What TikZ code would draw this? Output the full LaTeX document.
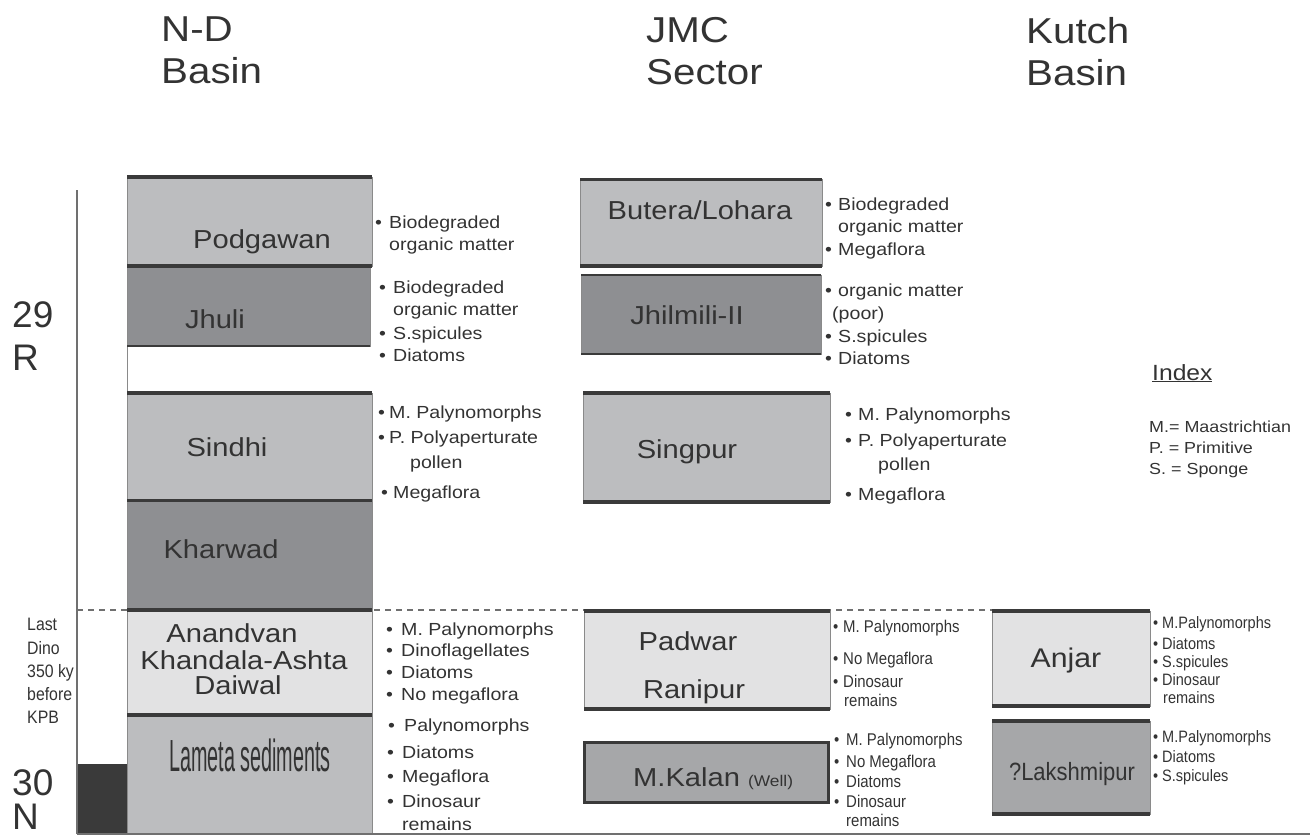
\documentclass[tikz,border=0pt]{standalone}
\usepackage{fontspec}
\setmainfont{Liberation Sans}[FakeStretch=1.12]
\newfontfamily\plainf{Liberation Sans}
\newfontfamily\narrowf{Liberation Sans}[FakeStretch=0.88]
\newfontfamily\lamf{Liberation Sans}[FakeStretch=0.44]
\definecolor{tc}{HTML}{333333}
\definecolor{lightg}{HTML}{BCBDBF}
\definecolor{darkg}{HTML}{8E8F92}
\definecolor{palest}{HTML}{E2E2E3}
\definecolor{midg}{HTML}{A6A7A9}
\definecolor{rulec}{HTML}{3A3A3A}
\definecolor{sideg}{HTML}{8A8A8A}
\definecolor{axisg}{HTML}{707070}
\newcounter{lnc}
\newcommand\stratbox[6]{\node[box,fill=#6,minimum width=#4pt,minimum height=#5pt] (#1) at (#2,#3) {};}
\newcommand\li[4][lst]{\stepcounter{lnc}\node[#1] (li\arabic{lnc}) at (#2,#3) {#4};}
\newcommand\bb[1]{\makebox[#1pt][l]{\textbullet}}
\begin{document}
\begin{tikzpicture}[x=1pt,y=-1pt,
  box/.style={draw=sideg,line width=1pt,inner sep=0pt,outer sep=0pt,anchor=north west},
  rule/.style={draw=rulec,line width=#1},
  rule/.default=3.5pt,
  lst/.style={anchor=base west,inner sep=0pt,text=tc,font=\fontsize{17.5}{18}\selectfont},
  nl/.style={lst,font=\narrowf\fontsize{17}{18}\selectfont},
  kl/.style={lst,font=\narrowf\fontsize{16.5}{18}\selectfont},
  ld/.style={lst,font=\narrowf\fontsize{18}{18}\selectfont},
  big/.style={lst,font=\plainf\fontsize{37}{40}\selectfont},
  idx/.style={lst,font=\fontsize{16}{18}\selectfont},
  lab/.style={anchor=base,inner sep=0pt,text=tc,font=\fontsize{26}{28}\selectfont},
  ttl/.style={anchor=north west,inner sep=0pt,text=tc,align=left,font=\fontsize{36}{42}\selectfont},
  dashline/.style={draw=axisg,line width=1.2pt,dash pattern=on 6pt off 5pt},
  axis/.style={draw=axisg,line width=1.5pt}]
\useasboundingbox (0,0) rectangle (1310,836);

% titles
\node[ttl] (t1) at (161,17) {N-D\\Basin};
\node[ttl] (t2) at (646,17) {JMC\\Sector};
\node[ttl] (t3) at (1026,17) {Kutch\\Basin};

% axis, dashed KPB-level line, bottom line
\coordinate (axT) at (77,190);
\coordinate (axB) at (77,834);
\coordinate (botR) at (1310,834);
\coordinate (dashL) at (77,610);
\coordinate (dashR) at (992,610);
\draw[dashline] (dashL) -- (dashR);

% N-D Basin column
\stratbox{pod}{127}{177}{245}{89}{lightg}
\stratbox{jhu}{127}{266}{243}{80}{darkg}
\stratbox{sin}{127}{393}{245}{107}{lightg}
\stratbox{kha}{127}{500}{245}{110}{darkg}
\stratbox{ana}{127}{610}{245}{105}{palest}
\stratbox{lam}{127}{715}{245}{119}{lightg}
\draw[draw=sideg,line width=1pt] (jhu.south west) -- (sin.north west);
\draw[rule] (pod.north west) -- (pod.north east);
\draw[rule] (pod.south west) -- (pod.south east);
\draw[rule=2.5pt] (jhu.south west) -- (jhu.south east);
\draw[rule] (sin.north west) -- (sin.north east);
\draw[rule=3pt] (sin.south west) -- (sin.south east);
\draw[rule=4pt] (kha.south west) -- (kha.south east);
\draw[rule=4pt] (ana.south west) -- (ana.south east);

% JMC Sector column
\stratbox{but}{580}{179}{242}{87}{lightg}
\stratbox{jhi}{581}{275}{240}{79}{darkg}
\stratbox{sgp}{583}{393}{247}{109}{lightg}
\stratbox{pad}{584}{611}{246}{98}{palest}
\node[box,fill=midg,draw=rulec,line width=3pt,minimum width=244pt,minimum height=60pt] (mka) at (584,742) {};
\draw[rule=3pt] (but.north west) -- (but.north east);
\draw[rule] (but.south west) -- (but.south east);
\draw[rule=2.5pt] (jhi.north west) -- (jhi.north east);
\draw[rule=2.5pt] (jhi.south west) -- (jhi.south east);
\draw[rule] (sgp.north west) -- (sgp.north east);
\draw[rule] (sgp.south west) -- (sgp.south east);
\draw[rule=4pt] (pad.north west) -- (pad.north east);
\draw[rule=4pt] (pad.south west) -- (pad.south east);

% Kutch Basin column
\stratbox{anj}{992}{611}{158}{95}{palest}
\stratbox{lak}{992}{721}{158}{93}{midg}
\draw[rule=4pt] (anj.north west) -- (anj.north east);
\draw[rule] (anj.south west) -- (anj.south east);
\draw[rule=4pt] (lak.north west) -- (lak.north east);
\draw[rule] (lak.south west) -- (lak.south east);

% axis and chron bar
\node[box,draw=none,fill=rulec,minimum width=50pt,minimum height=70pt] (bar) at (77,764) {};
\draw[axis] (axT) -- (axB);
\draw[axis,line width=2pt] (axB) -- (botR);

% box labels
\node[lab] (lpod) at (262,248) {Podgawan};
\node[lab] (ljhu) at (215,328) {Jhuli};
\node[lab] (lsin) at (227,456) {Sindhi};
\node[lab] (lkha) at (221,558) {Kharwad};
\node[lab] (lana1) at (232,642) {Anandvan};
\node[lab] (lana2) at (244,669) {Khandala-Ashta};
\node[lab] (lana3) at (238,694) {Daiwal};
\node[lab,font=\lamf\fontsize{45}{45}\selectfont] (llam) at (250,771) {Lameta sediments};
\node[lab] (lbut) at (700,219) {Butera/Lohara};
\node[lab] (ljhi) at (687,324) {Jhilmili-II};
\node[lab] (lsgp) at (687,458) {Singpur};
\node[lab] (lpad1) at (688,650) {Padwar};
\node[lab] (lpad2) at (694,698) {Ranipur};
\node[lab,anchor=base west] (lmka) at (633,786) {M.Kalan {\fontsize{15.5}{15}\selectfont(Well)}};
\node[lab,font=\fontsize{27}{28}\selectfont] (lanj) at (1066,667) {Anjar};
\node[lab,font=\narrowf\fontsize{25}{26}\selectfont] (llak) at (1072,780) {?Lakshmipur};

% chron labels
\li[big]{12}{327}{29}
\li[big]{12}{370}{R}
\li[big]{12}{795}{30}
\li[big]{12}{829}{N}
\li[ld]{27}{630}{Last}
\li[ld]{27}{654}{Dino}
\li[ld]{27}{677}{350 ky}
\li[ld]{27}{700}{before}
\li[ld]{27}{723}{KPB}

% N-D lists
\li{375}{228}{\bb{14}Biodegraded}
\li{389}{250}{organic matter}
\li{379}{293}{\bb{14}Biodegraded}
\li{393}{315}{organic matter}
\li{379}{339}{\bb{14}S.spicules}
\li{379}{361}{\bb{14}Diatoms}
\li{378}{418}{\bb{11}M. Palynomorphs}
\li{378}{443}{\bb{11}P. Polyaperturate}
\li{410}{468}{pollen}
\li{381}{498}{\bb{12}Megaflora}
\li{386}{635}{\bb{15}M. Palynomorphs}
\li{386}{656}{\bb{15}Dinoflagellates}
\li{386}{678}{\bb{15}Diatoms}
\li{386}{700}{\bb{15}No megaflora}
\li{388}{731}{\bb{16}Palynomorphs}
\li{387}{758}{\bb{15}Diatoms}
\li{387}{782}{\bb{15}Megaflora}
\li{387}{807}{\bb{15}Dinosaur}
\li{402}{830}{remains}

% JMC lists
\li{825}{210}{\bb{13}Biodegraded}
\li{838}{232}{organic matter}
\li{825}{255}{\bb{13}Megaflora}
\li{825}{296}{\bb{13}organic matter}
\li{832}{319}{(poor)}
\li{825}{342}{\bb{13}S.spicules}
\li{825}{364}{\bb{13}Diatoms}
\li{845}{420}{\bb{13}M. Palynomorphs}
\li{845}{446}{\bb{13}P. Polyaperturate}
\li{878}{470}{pollen}
\li{845}{500}{\bb{13}Megaflora}
\li[nl]{833}{632}{\bb{10}M. Palynomorphs}
\li[nl]{833}{664}{\bb{10}No Megaflora}
\li[nl]{833}{687}{\bb{10}Dinosaur}
\li[nl]{844}{706}{remains}
\li[nl]{834}{745}{\bb{12}M. Palynomorphs}
\li[nl]{834}{767}{\bb{12}No Megaflora}
\li[nl]{834}{787}{\bb{12}Diatoms}
\li[nl]{834}{807}{\bb{12}Dinosaur}
\li[nl]{846}{826}{remains}

% Kutch lists
\li[kl]{1153}{628}{\bb{9}M.Palynomorphs}
\li[kl]{1153}{649}{\bb{9}Diatoms}
\li[kl]{1153}{667}{\bb{9}S.spicules}
\li[kl]{1153}{685}{\bb{9}Dinosaur}
\li[kl]{1163}{703}{remains}
\li[kl]{1153}{742}{\bb{9}M.Palynomorphs}
\li[kl]{1153}{762}{\bb{9}Diatoms}
\li[kl]{1153}{781}{\bb{9}S.spicules}

% index
\node[lst,font=\fontsize{22}{24}\selectfont] (idxh) at (1152,380) {\underline{Index}};
\li[idx]{1149}{432}{M.= Maastrichtian}
\li[idx]{1149}{453}{P. = Primitive}
\li[idx]{1149}{474}{S. = Sponge}
\end{tikzpicture}
\end{document}
